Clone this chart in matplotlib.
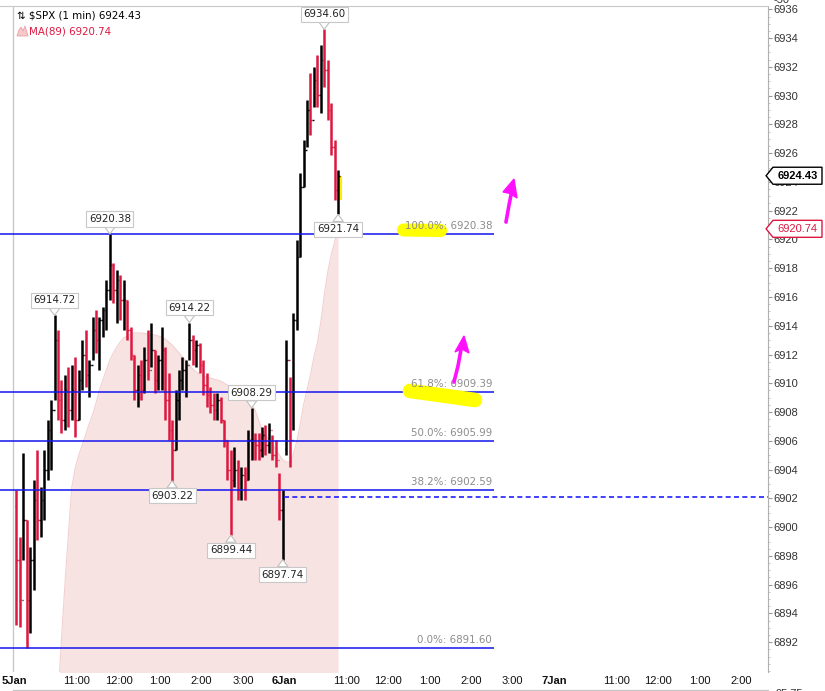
import numpy as np
import matplotlib.pyplot as plt
from matplotlib.patches import Polygon
from matplotlib.transforms import blended_transform_factory

# $SPX 1 min chart, read off the picture and summarised as 5 minute OHLC
# x is minutes of trading time from 09:30 on 5 Jan (one session = 390 min)
jan5_open = 6901.50
jan5_high = [6902.58, 6899.32, 6905.16, 6900.50, 6898.62, 6903.28, 6905.36, 6902.79, 6905.36, 6907.45,
             6908.84, 6914.72, 6913.71, 6910.23, 6910.58, 6911.13, 6911.27, 6911.83, 6910.93, 6913.01,
             6913.71, 6911.62, 6914.60, 6915.10, 6914.61, 6915.31, 6917.18, 6920.38, 6918.36, 6917.88,
             6917.53, 6917.18, 6915.79, 6913.91, 6911.97, 6911.27, 6911.62, 6912.52, 6913.71, 6914.19,
             6912.32, 6911.97, 6913.91, 6912.52, 6910.72, 6907.45, 6909.53, 6910.93, 6911.83, 6911.62,
             6914.22, 6913.36, 6913.01, 6912.80, 6911.62, 6910.72, 6909.74, 6909.33, 6909.33, 6909.05,
             6907.45, 6906.06, 6905.36, 6905.57, 6904.67, 6904.18, 6904.18, 6906.75, 6908.29, 6906.55,
             6906.55, 6906.96, 6907.10, 6907.24, 6906.41, 6906.06, 6903.76, 6902.58]
jan5_low = [6893.20, 6893.06, 6897.72, 6891.60, 6892.64, 6895.63, 6899.11, 6899.32, 6900.50, 6903.28,
            6903.97, 6908.84, 6907.45, 6906.55, 6906.75, 6906.96, 6907.45, 6906.27, 6907.45, 6909.53,
            6909.74, 6909.05, 6911.62, 6912.11, 6910.93, 6913.22, 6913.71, 6915.79, 6915.58, 6914.19,
            6914.40, 6913.71, 6913.01, 6911.62, 6908.84, 6908.35, 6908.84, 6909.33, 6910.23, 6911.13,
            6909.33, 6909.53, 6909.53, 6907.45, 6906.06, 6903.22, 6905.36, 6907.45, 6909.53, 6909.05,
            6911.62, 6911.27, 6911.13, 6910.72, 6909.19, 6908.35, 6907.94, 6907.45, 6907.45, 6907.24,
            6905.57, 6903.28, 6899.44, 6902.79, 6901.89, 6901.89, 6901.89, 6903.28, 6904.67, 6904.67,
            6904.67, 6904.88, 6905.02, 6905.16, 6904.67, 6904.18, 6900.50, 6897.74]
jan5_close = [6897.72, 6894.94, 6900.50, 6894.94, 6897.72, 6901.89, 6900.50, 6901.89, 6903.97, 6906.75,
              6908.14, 6913.01, 6908.84, 6907.45, 6909.53, 6908.14, 6909.53, 6907.45, 6910.23, 6911.97,
              6910.58, 6911.27, 6913.71, 6913.01, 6914.40, 6915.10, 6916.49, 6918.22, 6916.49, 6917.18,
              6915.79, 6915.79, 6913.71, 6911.97, 6909.53, 6910.58, 6909.53, 6911.62, 6910.93, 6912.32,
              6910.23, 6911.62, 6912.32, 6908.84, 6906.75, 6905.36, 6908.84, 6910.23, 6910.93, 6911.27,
              6913.01, 6912.32, 6912.66, 6911.27, 6909.88, 6909.19, 6908.49, 6908.14, 6908.84, 6907.45,
              6906.06, 6903.97, 6903.28, 6903.97, 6902.58, 6903.62, 6903.28, 6906.06, 6906.06, 6905.71,
              6905.36, 6906.41, 6905.71, 6906.75, 6905.02, 6904.67, 6901.20, 6902.10]

jan6_open = 6905.40
jan6_high = [6913.01, 6910.44, 6914.89, 6919.96, 6924.62, 6926.91, 6929.70, 6931.57, 6931.99, 6932.82,
             6933.52, 6934.60, 6932.48, 6929.49, 6926.91, 6924.83]
jan6_low = [6905.02, 6904.18, 6906.75, 6913.71, 6918.78, 6923.65, 6926.43, 6927.26, 6929.21, 6929.21,
            6928.79, 6930.60, 6928.31, 6925.87, 6922.74, 6921.74]
jan6_close = [6911.62, 6906.06, 6914.40, 6918.78, 6923.65, 6926.22, 6929.00, 6928.31, 6931.09, 6930.04,
              6932.48, 6931.78, 6929.00, 6926.43, 6923.44, 6924.43]

nan = np.nan
ma89_jan5 = [nan] * 12 + [
    6888.00, 6892.16, 6895.98, 6899.46, 6902.79, 6904.11, 6905.02, 6905.71, 6906.41, 6907.17,
    6907.80, 6908.63, 6909.53, 6910.23, 6910.93, 6911.62, 6912.11, 6912.52, 6912.87, 6913.15,
    6913.29, 6913.43, 6913.50, 6913.50, 6913.50, 6913.47, 6913.43, 6913.40, 6913.36, 6913.29,
    6913.22, 6913.08, 6912.87, 6912.66, 6912.39, 6912.11, 6911.83, 6911.55, 6911.27, 6910.99,
    6910.79, 6910.65, 6910.51, 6910.44, 6910.37, 6910.30, 6910.23, 6910.16, 6910.02, 6909.88,
    6909.74, 6909.60, 6909.47, 6909.26, 6909.05, 6908.77, 6908.49, 6908.14, 6907.45, 6906.75,
    6906.41, 6906.06, 6905.78, 6905.43, 6905.02, 6904.67]
ma89_jan6 = [6904.53, 6904.53, 6905.02, 6905.92, 6907.10, 6908.49, 6909.53, 6910.58, 6911.83, 6912.80,
             6914.26, 6916.14, 6917.74, 6918.92, 6919.82, 6920.74]

last_price = 6924.43
ma_last = 6920.74
prior_close = 6902.10

fib_names = ["100.0%", "61.8%", "50.0%", "38.2%", "0.0%"]
fib_levels = [6920.38, 6909.39, 6905.99, 6902.59, 6891.60]

# swing labels: (bar index over both days, 'hi' or 'lo')
swings = [(11, 'hi'), (27, 'hi'), (45, 'lo'), (50, 'hi'), (62, 'lo'), (68, 'hi'), (77, 'lo'),
          (78 + 11, 'hi'), (78 + 15, 'lo')]

tick_min = [0, 90, 150, 210, 270, 330, 390, 480, 540, 600, 660, 720, 780, 870, 930, 990, 1050]
tick_lab = ["5Jan", "11:00", "12:00", "1:00", "2:00", "3:00", "6Jan", "11:00", "12:00", "1:00",
            "2:00", "3:00", "7Jan", "11:00", "12:00", "1:00", "2:00"]

crimson = '#dc1840'
blue = '#1414ee'

t = np.concatenate([np.arange(78) * 5 + 2.5, 390 + np.arange(16) * 5 + 2.5])
hi = np.array(jan5_high + jan6_high)
lo = np.array(jan5_low + jan6_low)
cl = np.array(jan5_close + jan6_close)
op = np.concatenate([[jan5_open], cl[:77], [jan6_open], cl[78:-1]])
ma = np.array(ma89_jan5 + ma89_jan6)

W, H = 825, 691
fig = plt.figure(figsize=(W / 100, H / 100), dpi=100)
ax = fig.add_axes([0, 19 / H, 768 / W, 666 / H])
ax.set_xlim(-21.3, 1089)
ax.set_ylim(6889.93, 6936.23)

# MA(89) area
ok = ~np.isnan(ma)
ax.fill_between(t[ok], 6880, ma[ok], color='#f8e3e3', lw=0, zorder=1)
ax.plot(t[ok], ma[ok], color='#f3d0d0', lw=0.8, zorder=1.1)

# highlighter on the last bar
ax.plot([470.2, 470.2], [6924.41, 6922.74], color='#fff000', lw=3, solid_capstyle='butt', zorder=1.5)

# OHLC bars
cols = np.where(cl >= op, 'black', crimson)
ax.vlines(t, lo, hi, colors=cols, lw=1.8, zorder=3)
ax.hlines(op, t - 2.2, t, colors=cols, lw=1.0, zorder=3)
ax.hlines(cl, t, t + 2.2, colors=cols, lw=1.0, zorder=3)

# fibonacci levels
fib_end = 693
for name, lev in zip(fib_names, fib_levels):
    ax.hlines(lev, -30, fib_end, color=blue, lw=1.1, zorder=4)
    ax.text(690, lev + 0.2, f"{name}: {lev:.2f}", ha='right', va='bottom', fontsize=7.4,
            color='#8c8c8c', zorder=6)
ax.plot([390, 1100], [prior_close, prior_close], color='#2020ff', lw=1.2,
        dashes=(3, 2), dash_capstyle='butt', zorder=4)

# yellow marker strokes
ax.plot([562, 615.6], [6920.66, 6920.62], color='#ffff00', lw=9.4, solid_capstyle='round', zorder=5)
ax.plot([571.4, 665.4], [6909.47, 6908.84], color='#ffff00', lw=10.5, solid_capstyle='round', zorder=5)

# magenta hand drawn arrows
mag = '#ff10ff'
ax.plot([710.2, 714.6, 718.9], [6921.21, 6922.40, 6923.44], color=mag, lw=2.6, solid_capstyle='round', zorder=6)
ax.add_patch(Polygon([[705.9, 6923.30], [721.8, 6924.20], [726.1, 6922.88], [716, 6923.2]],
                     closed=True, fc=mag, ec=mag, lw=1, zorder=6))
ax.plot([635.0, 640.8, 645.1], [6910.09, 6911.20, 6912.32], color=mag, lw=2.6, solid_capstyle='round', zorder=6)
ax.add_patch(Polygon([[636.5, 6912.18], [649.5, 6913.29], [656.7, 6912.11], [646, 6912.4]],
                     closed=True, fc=mag, ec=mag, lw=1, zorder=6))

# swing high / low labels
for idx, side in swings:
    y = hi[idx] if side == 'hi' else lo[idx]
    off = 15 if side == 'hi' else -15
    ax.annotate(f"{y:.2f}", xy=(t[idx], y), xytext=(0, off), textcoords='offset pixels',
                ha='center', va='center', fontsize=7.4, color='#222222', zorder=7,
                bbox=dict(boxstyle='square,pad=0.25', fc='white', ec='#c8c8c8', lw=0.8),
                arrowprops=dict(arrowstyle='wedge,tail_width=1.0,shrink_factor=0.5', fc='white',
                                ec='#c0c0c0', lw=0.8, shrinkA=0, shrinkB=0))

# axes styling
for s in ['left', 'bottom']:
    ax.spines[s].set_visible(False)
ax.spines['top'].set_color('#c8c8c8')
ax.spines['right'].set_color('#b0b0b0')
ax.axvline(-2.5, color='#c8c8c8', lw=1, zorder=0.5)

ax.yaxis.tick_right()
ax.set_yticks(np.arange(6892, 6937, 2))
ax.set_yticks(np.arange(6890, 6936.3, 0.5), minor=True)
ax.tick_params(axis='y', which='major', length=3, width=0.8, color='#999999', pad=1,
               labelsize=8, labelcolor='#333333')
ax.tick_params(axis='y', which='minor', length=1.5, width=0.6, color='#bbbbbb')
for lb in ax.get_yticklabels():
    lb.set_family(['Liberation Sans', 'DejaVu Sans'])

ax.set_xticks(tick_min)
ax.set_xticklabels(tick_lab)
ax.tick_params(axis='x', length=0, pad=3, labelsize=8, labelcolor='#111111')
for lb in ax.get_xticklabels():
    lb.set_family(['Liberation Sans Narrow', 'Liberation Sans', 'DejaVu Sans'])
    if 'Jan' in lb.get_text():
        lb.set_fontweight('bold')

# price tags on the axis
bt = blended_transform_factory(ax.transAxes, ax.transData)
hh = 8.5 / 14.385
for val, ec, tc, fw in [(last_price, 'black', 'black', 'bold'), (ma_last, crimson, crimson, 'normal')]:
    pts = [[0.9975, val], [1.0065, val + hh], [1.0703, val + hh], [1.0703, val - hh], [1.0065, val - hh]]
    ax.add_patch(Polygon(pts, closed=True, transform=bt, fc='white', ec=ec, lw=1, clip_on=False, zorder=8))
    ax.text(1.0385, val, f"{val:.2f}", transform=bt, ha='center', va='center', fontsize=8, color=tc,
            fontweight=fw, family=['Liberation Sans', 'DejaVu Sans'], clip_on=False, zorder=9)

# legend
fig.text(17 / W, 1 - 16 / H, "⇅ $SPX (1 min) 6924.43", fontsize=7.4, color='black', va='center')
icon = [[17, 36], [19, 30], [21, 27], [23, 31], [25, 26], [28, 36]]
fig.add_artist(Polygon([[x / W, 1 - y / H] for x, y in icon], closed=True, transform=fig.transFigure,
                       fc='#f6c8c8', ec='#eaa0a8', lw=0.6))
fig.text(29 / W, 1 - 31 / H, "MA(89) 6920.74", fontsize=7.4, color=crimson, va='center')

# bits of the neighbouring panels
fig.text(773 / W, 1 - 0 / H, "-50", fontsize=8, color='#333333', va='center',
         family=['Liberation Sans', 'DejaVu Sans'])
fig.text(776 / W, 1 - 694 / H, "95.75", fontsize=8, color='#333333', va='center',
         family=['Liberation Sans', 'DejaVu Sans'])
fig.add_artist(plt.Line2D([13 / W, 768 / W], [1 - 690 / H, 1 - 690 / H], color='#c8c8c8', lw=1))

fig.savefig('out.png', dpi=100)
plt.close()
